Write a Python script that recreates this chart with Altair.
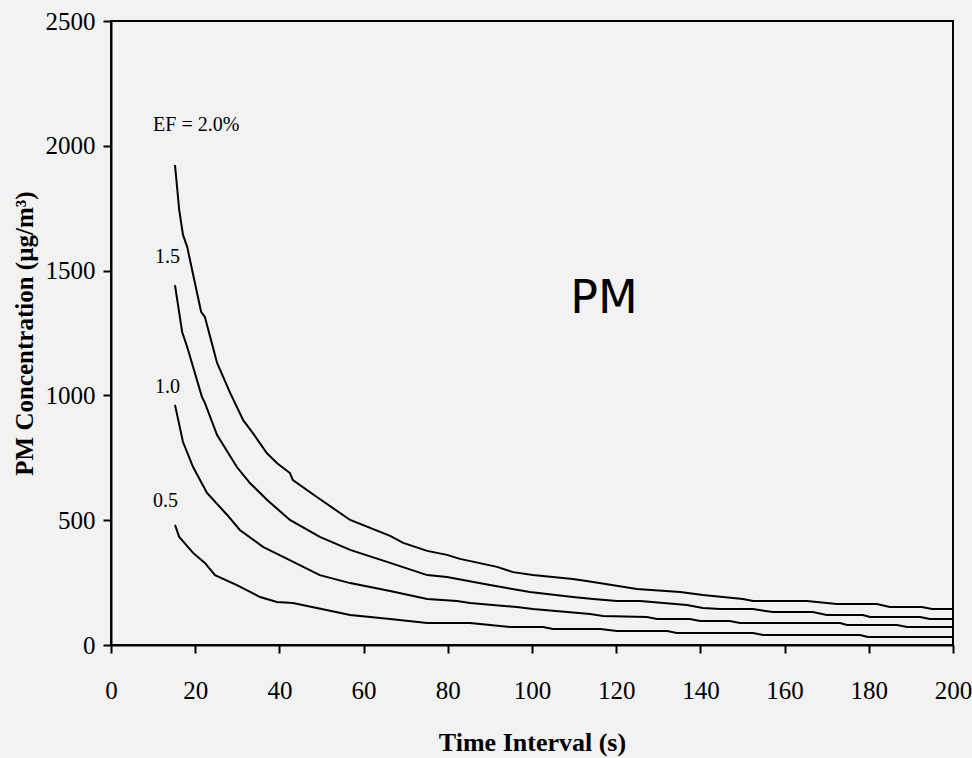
import altair as alt
import pandas as pd

# Curve data (time interval s, PM concentration ug/m3)
t_20 = [15.2, 16.2, 17.1, 18.1, 21.4, 22.3, 25.2, 28.3, 31.4, 33.7, 37.0, 39.4, 42.5, 43.2, 48.9, 56.8,
        66.3, 69.4, 75.1, 79.8, 82.9, 91.7, 95.5, 100.2, 109.7, 114.5, 124.9, 135.2, 140.6, 150.1,
        152.5, 165.3, 172.4, 181.9, 185.0, 192.6, 195.0, 200]
c_20 = [1923, 1743, 1643, 1595, 1335, 1314, 1130, 1010, 901, 849, 769, 729, 689, 661, 593, 501,
        437, 409, 377, 361, 345, 313, 292, 280, 264, 252, 224, 212, 200, 184,
        176, 176, 164, 164, 152, 152, 144, 144]

t_15 = [15.2, 16.9, 18.1, 21.6, 22.3, 25.2, 29.9, 33.0, 37.1, 42.5, 49.6, 56.8, 66.3, 75.1, 79.8,
        90.0, 99.5, 109.7, 114.5, 120.2, 125.7, 136.8, 140.6, 144.7, 152.5, 157.2, 166.7, 170.0,
        178.6, 180.3, 192.2, 194.5, 200]
c_15 = [1442, 1254, 1194, 994, 970, 841, 713, 649, 581, 501, 433, 381, 329, 280, 272,
        240, 212, 192, 184, 176, 176, 160, 148, 144, 144, 132, 132, 120,
        120, 112, 112, 104, 104]

t_10 = [15.2, 17.1, 19.5, 22.8, 27.6, 30.6, 36.1, 40.9, 49.6, 56.8, 66.3, 75.1, 82.2, 85.3, 96.4,
        100.2, 113.8, 116.9, 127.3, 129.7, 137.5, 139.9, 147.0, 149.4, 173.2, 174.8, 186.7, 189.1, 200]
c_10 = [962, 813, 713, 609, 521, 461, 393, 353, 280, 248, 216, 184, 176, 168, 152,
        144, 124, 116, 112, 104, 104, 96, 96, 88, 88, 80, 80, 72, 72]

t_05 = [15.2, 16.2, 19.5, 22.3, 24.7, 29.9, 35.4, 39.4, 43.2, 48.9, 56.8, 66.3, 75.1, 85.3, 94.8,
        102.6, 105.0, 116.2, 120.2, 132.1, 134.4, 152.5, 154.9, 177.9, 179.8, 200]
c_05 = [481, 433, 369, 329, 280, 240, 192, 172, 168, 148, 120, 104, 88, 88, 72,
        72, 64, 64, 56, 56, 48, 48, 40, 40, 32, 32]

series = [("2.0", t_20, c_20), ("1.5", t_15, c_15), ("1.0", t_10, c_10), ("0.5", t_05, c_05)]

x_ticks = [0, 20, 40, 60, 80, 100, 120, 140, 160, 180, 200]
y_ticks = [0, 500, 1000, 1500, 2000, 2500]

# Curve labels (text, time, concentration)
label_text = ["EF = 2.0%", "1.5", "1.0", "0.5"]
label_t = [10.0, 10.45, 10.45, 10.0]
label_c = [2059, 1530, 1010, 553]

rows = []
for name, ts, cs in series:
    for i, (t, c) in enumerate(zip(ts, cs)):
        rows.append({"series": name, "order": i, "t": t, "c": c})
df = pd.DataFrame(rows)

labels_df = pd.DataFrame({"text": label_text, "t": label_t, "c": label_c})
pm_df = pd.DataFrame({"text": ["PM"], "t": [117.1], "c": [1330]})

FONT = "Liberation Serif"

x_enc = alt.X("t:Q", scale=alt.Scale(domain=[0, 200], nice=False),
              axis=alt.Axis(values=x_ticks, format="d", grid=False, tickSize=8, tickWidth=2,
                            tickColor="black", domainColor="black", domainWidth=2,
                            labelFont=FONT, labelFontSize=25, labelColor="black",
                            labelBaseline="alphabetic", labelPadding=45,
                            labelFlush=False, labelOverlap=False,
                            title="Time Interval (s)", titleFont=FONT, titleFontSize=26,
                            titleFontWeight="bold", titleColor="black", titleX=421, titleY=105,
                            titleBaseline="alphabetic"))
y_enc = alt.Y("c:Q", scale=alt.Scale(domain=[0, 2500], nice=False),
              axis=alt.Axis(values=y_ticks, format="d", grid=False, tickSize=8, tickWidth=2,
                            tickColor="black", domainColor="black", domainWidth=2,
                            labelFont=FONT, labelFontSize=25, labelColor="black", labelPadding=8,
                            labelFlush=False, labelOverlap=False,
                            title="PM Concentration (µg/m³)", titleFont=FONT, titleFontSize=25,
                            titleFontWeight="bold", titleColor="black", titleX=-79, titleY=312,
                            titleAngle=-90, titleBaseline="alphabetic"))

lines = alt.Chart(df).mark_line(color="black", strokeWidth=2).encode(
    x=x_enc, y=y_enc, detail="series:N", order="order:Q")

labels = alt.Chart(labels_df).mark_text(
    align="left", baseline="alphabetic", font=FONT, fontSize=20, color="black"
).encode(x="t:Q", y="c:Q", text="text:N")

pm = alt.Chart(pm_df).mark_text(
    align="center", baseline="alphabetic", font="DejaVu Sans", fontSize=46, color="black"
).encode(x="t:Q", y="c:Q", text="text:N")

chart = alt.layer(lines, labels, pm).properties(
    width=842, height=624,
    autosize="none",
    padding={"left": 111, "top": 21, "right": 19, "bottom": 113},
    background="#f2f2f2",
).configure_view(stroke="black", strokeWidth=2)

chart.save("out.html", embed_options={"renderer": "svg", "actions": False})
